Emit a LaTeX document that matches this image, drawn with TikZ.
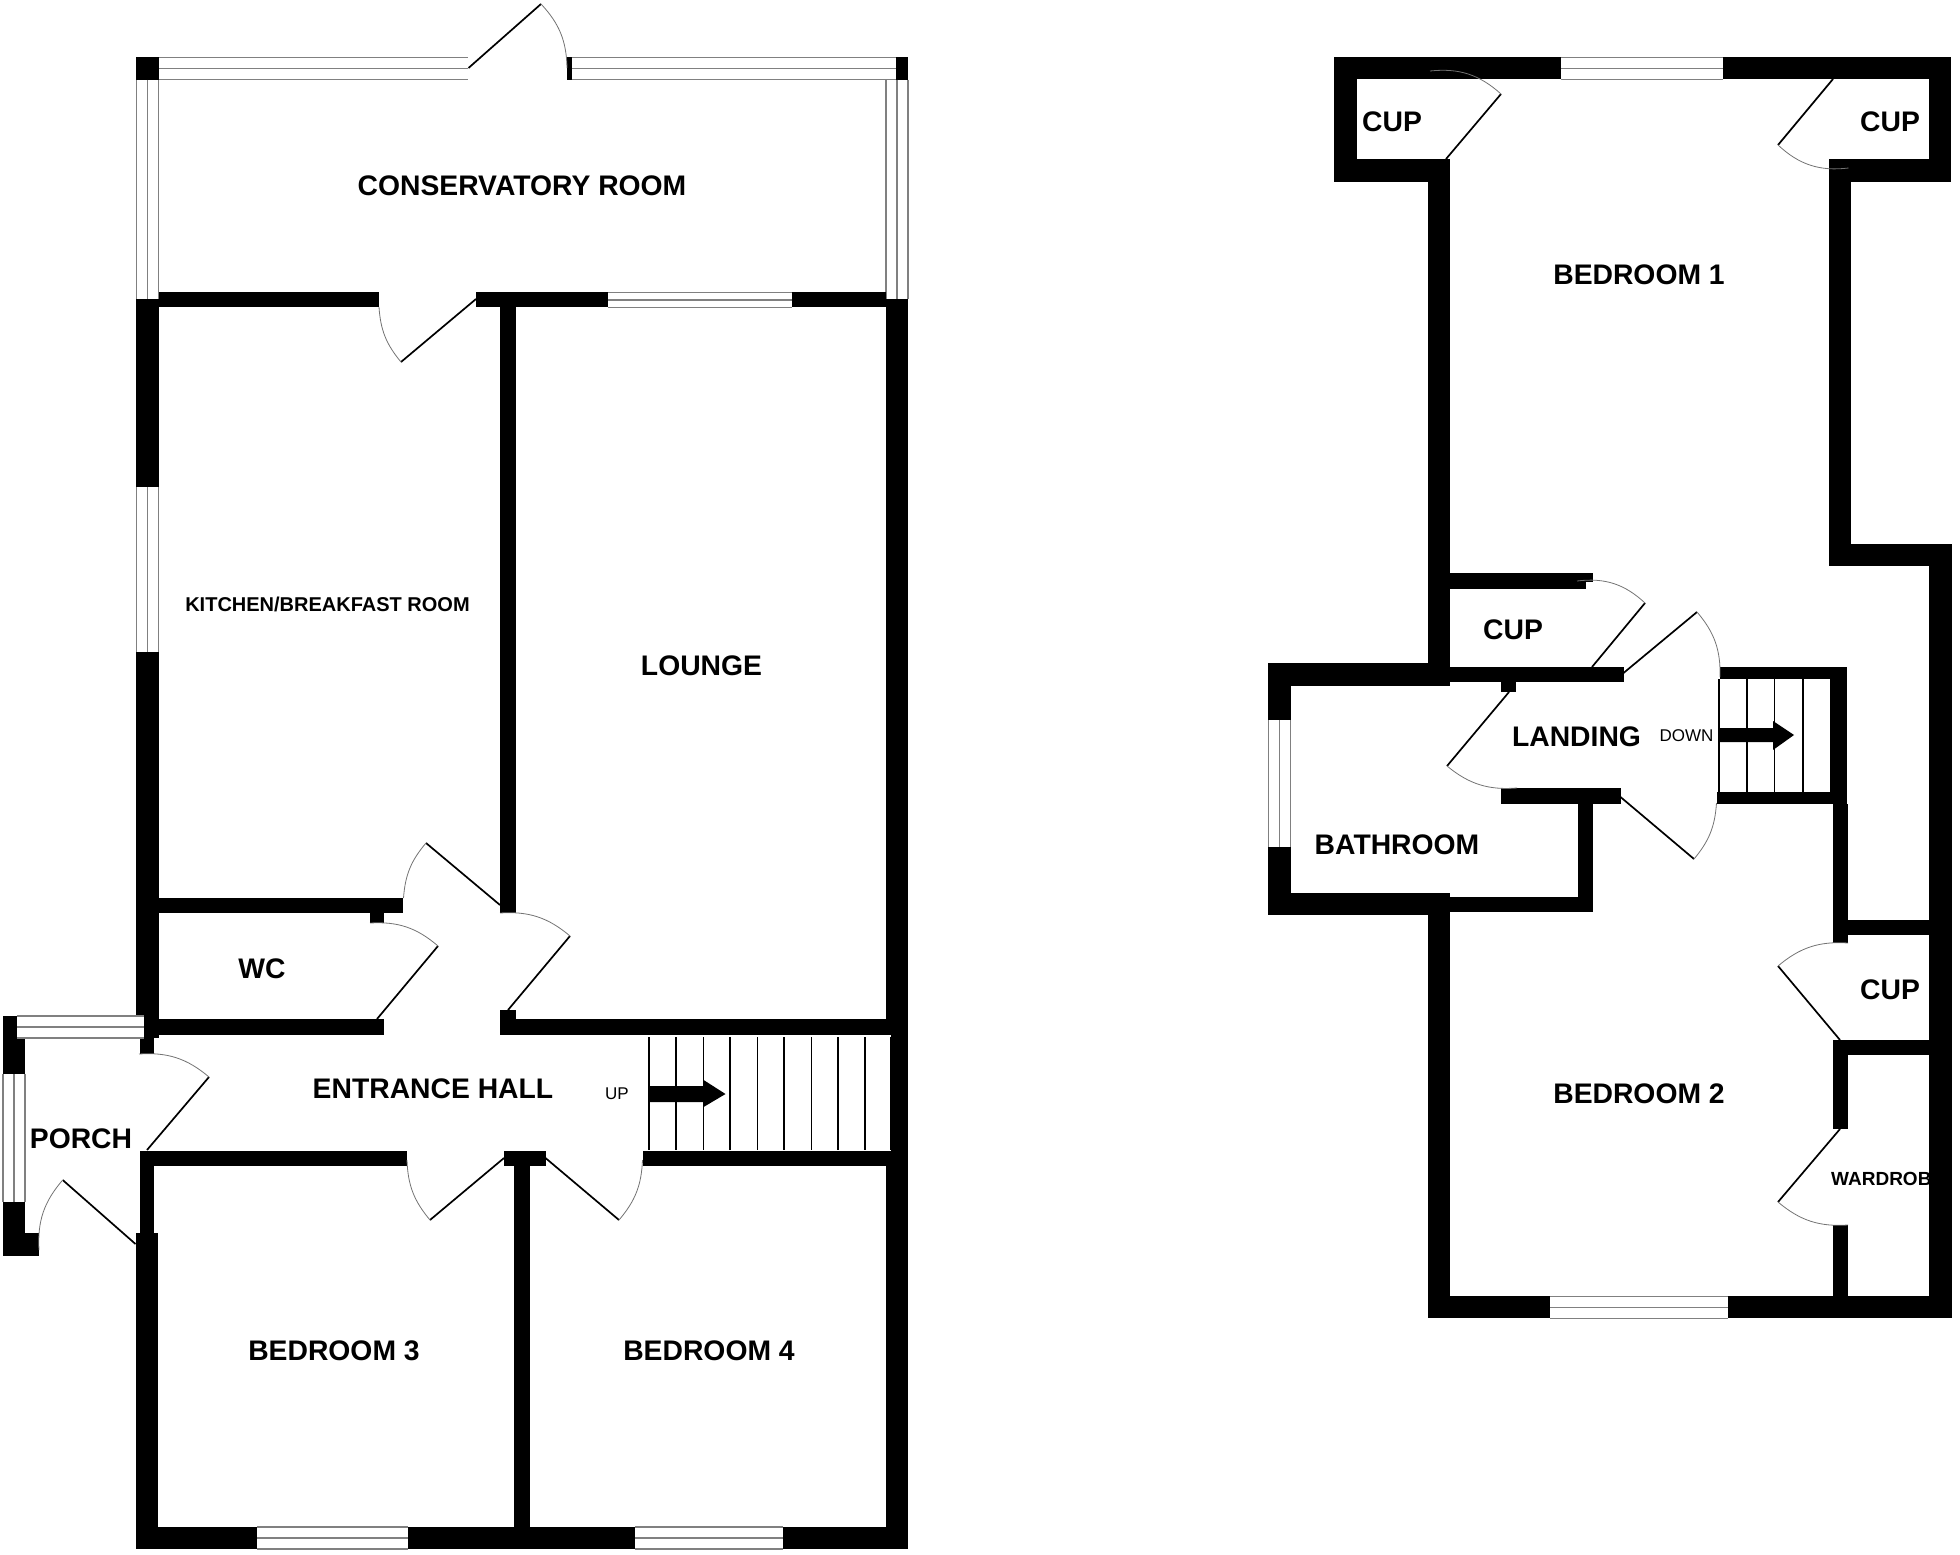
\documentclass[tikz,border=0pt]{standalone}
\usepackage{fontspec}
\setmainfont{Liberation Sans}

\newcommand{\wall}[4]{\fill[black] (#1,#2) rectangle (#3,#4);}
\newcommand{\winh}[4]{\fill[white] (#1,#3) rectangle (#2,#3+2*#4); \draw[glazing] (#1,#3) -- (#2,#3) (#1,#3+#4) -- (#2,#3+#4) (#1,#3+2*#4) -- (#2,#3+2*#4);}
\newcommand{\winv}[3]{\fill[white] (#3,#1) rectangle (#3+22,#2); \draw[glazing] (#3,#1) -- (#3,#2) (#3+11,#1) -- (#3+11,#2) (#3+22,#1) -- (#3+22,#2);}
\newcommand{\door}[4]{\draw[leaf] (#1) -- (#2); \draw[swing] (#2) to[bend #4] (#3);}

\begin{document}
\begin{tikzpicture}[x=1pt, y=-1pt,
    glazing/.style={draw=black!50, line width=1.3pt},
    leaf/.style={draw=black, line width=1.7pt},
    swing/.style={draw=black!55, line width=0.8pt},
    tread/.style={draw=black, line width=1.2pt},
    room/.style={font=\bfseries\fontsize{28.3}{30}\selectfont, inner sep=0pt},
    smallroom/.style={font=\bfseries\fontsize{20}{22}\selectfont, inner sep=0pt},
    stairlabel/.style={font=\fontsize{17}{19}\selectfont, inner sep=0pt}]

    \useasboundingbox (0,0) rectangle (1960,1555);

    % text that the walls partly cover
    \node[font=\bfseries\fontsize{19}{21}\selectfont, inner sep=0pt, anchor=west] (wardrobe) at (1831,1179) {WARDROBE};

    % ground floor
    \wall{136}{57}{159}{80}
    \wall{896}{57}{908}{80}
    \wall{567}{57}{571.5}{80}
    \winh{159}{468}{57.5}{11}
    \winh{571.5}{896}{57.5}{11}
    \winv{80}{299}{136.5}
    \winv{80}{299}{886}
    \wall{136}{299}{159}{487}
    \wall{136}{652}{159}{1038}
    \winv{487}{652}{136.5}
    \wall{140}{1038}{154}{1054}
    \wall{159}{292}{379}{307}
    \wall{476}{292}{608}{307}
    \wall{791.5}{292}{886}{307}
    \winh{608}{791.5}{292.5}{7.5}
    \wall{886}{299}{908}{1019}
    \wall{891}{1035}{908}{1150.5}
    \wall{886}{1165}{908}{1549}
    \wall{500}{299}{516}{913}
    \wall{159}{898}{403}{913}
    \wall{370}{913}{384}{923}
    \wall{159}{1019}{384}{1035}
    \wall{500}{1019}{908}{1035}
    \wall{500}{1010}{516}{1019}
    \wall{140}{1150.5}{407}{1165.5}
    \wall{504}{1150.5}{545.5}{1165.5}
    \wall{642.5}{1150.5}{908}{1165.5}
    \wall{514}{1165}{530}{1549}
    \wall{140}{1165}{154}{1233}
    \wall{136}{1233}{158}{1549}
    \wall{158}{1527}{257}{1549}
    \wall{408}{1527}{635}{1549}
    \wall{783}{1527}{886}{1549}
    \winh{257}{408}{1527}{11}
    \winh{635}{783}{1527}{11}

    % porch
    \wall{3}{1016}{17}{1028}
    \wall{3}{1028}{25}{1074}
    \wall{3}{1202}{25}{1256}
    \wall{25}{1233}{39}{1256}
    \winh{17}{144}{1016}{11}
    \winv{1074}{1202}{3}

    \door{468.5,68}{541,4}{567,68}{left=21}
    \door{476,299}{401,362}{379,307}{left=18}
    \door{500,905}{426,843}{403.5,898}{right=18}
    \door{377,1019}{438,946}{370,923}{right=22}
    \door{508,1010}{570,936}{500,913}{right=22}
    \door{504,1158}{430,1220}{407,1160}{left=19}
    \door{545.5,1158}{619,1220}{642.5,1160}{right=19}
    \door{135.5,1244}{62.7,1180}{39,1250}{right=22}
    \door{147,1150}{209,1077}{139,1054}{right=22}

    \foreach \x in {649,676,703.6,730,757.5,784,811.6,838,865,891}
        \draw[tread] (\x,1037) -- (\x,1150);
    \fill[black] (649,1086) -- (703.6,1086) -- (703.6,1080) -- (725.5,1094) -- (703.6,1107) -- (703.6,1102) -- (649,1102) -- cycle;

    % first floor
    \wall{1334}{57}{1561}{79}
    \wall{1723}{57}{1951}{79}
    \winh{1561}{1723}{57.5}{11}
    \wall{1334}{79}{1357}{182}
    \wall{1334}{159}{1450}{182}
    \wall{1427.5}{182}{1450}{686}
    \wall{1929}{79}{1951}{182}
    \wall{1829}{159}{1951}{182}
    \wall{1829}{182}{1851}{566}
    \wall{1829}{544}{1952}{566}
    \wall{1929}{566}{1952}{1318}
    \wall{1450}{573}{1586}{589}
    \wall{1586}{573}{1593}{582}
    \wall{1450}{667}{1623.5}{682}
    \wall{1268}{663}{1450}{686}
    \wall{1501}{682}{1516}{692}
    \wall{1268}{686}{1291}{720}
    \wall{1268}{847}{1291}{915}
    \winv{720}{847}{1268.5}
    \wall{1268}{893}{1450}{915}
    \wall{1450}{897}{1593}{912}
    \wall{1578}{803}{1593}{912}
    \wall{1501}{788}{1620.5}{804}
    \wall{1720}{667}{1847}{679}
    \wall{1830.5}{679}{1847}{804}
    \wall{1717}{792}{1847}{804}
    \wall{1833}{804}{1847.5}{943}
    \wall{1847}{920}{1929}{935}
    \wall{1833}{1040}{1929}{1055}
    \wall{1833}{1055}{1847.5}{1129}
    \wall{1833}{1225}{1847.5}{1296}
    \wall{1427.5}{915}{1450}{1318}
    \wall{1450}{1296}{1550}{1318}
    \wall{1728}{1296}{1952}{1318}
    \winh{1550}{1728}{1296.5}{11}

    \door{1446,159}{1501,94}{1430,71}{right=24}
    \door{1833,79}{1778,145}{1848.5,168}{right=25}
    \door{1592,667}{1645,603}{1577,581}{right=25}
    \door{1623.5,673}{1697,612}{1720,677}{left=21}
    \door{1620.5,797}{1694,859}{1716.5,803}{right=18}
    \door{1509,692}{1447,766}{1517,788}{right=22}
    \door{1840,1040}{1778,966}{1848,943}{left=22}
    \door{1840,1129}{1778,1202}{1848,1225}{right=22}

    \foreach \x in {1719,1747,1774.5,1803,1830.5}
        \draw[tread] (\x,679) -- (\x,792);
    \fill[black] (1719,728) -- (1773,728) -- (1773,721) -- (1794,735) -- (1773,750) -- (1773,742) -- (1719,742) -- cycle;

    % labels
    \node[room] (conservatory) at (522,186) {CONSERVATORY ROOM};
    \node[smallroom] (kitchen) at (327.5,604) {KITCHEN/BREAKFAST ROOM};
    \node[room] (lounge) at (701.5,666) {LOUNGE};
    \node[room] (wc) at (262,969) {WC};
    \node[room] (hall) at (433,1089) {ENTRANCE HALL};
    \node[stairlabel] (up) at (617,1094) {UP};
    \node[room] (porch) at (81,1138.5) {PORCH};
    \node[room] (bedthree) at (334,1351) {BEDROOM 3};
    \node[room] (bedfour) at (709,1351) {BEDROOM 4};

    \node[room] (cupa) at (1392,122) {CUP};
    \node[room] (cupb) at (1890,122) {CUP};
    \node[room] (bedone) at (1639,275) {BEDROOM 1};
    \node[room] (cupc) at (1513,630) {CUP};
    \node[room] (landing) at (1576.5,736.5) {LANDING};
    \node[stairlabel] (down) at (1686.5,736) {DOWN};
    \node[room] (bathroom) at (1397,845) {BATHROOM};
    \node[room] (cupd) at (1890,990) {CUP};
    \node[room] (bedtwo) at (1639,1094) {BEDROOM 2};

\end{tikzpicture}
\end{document}
